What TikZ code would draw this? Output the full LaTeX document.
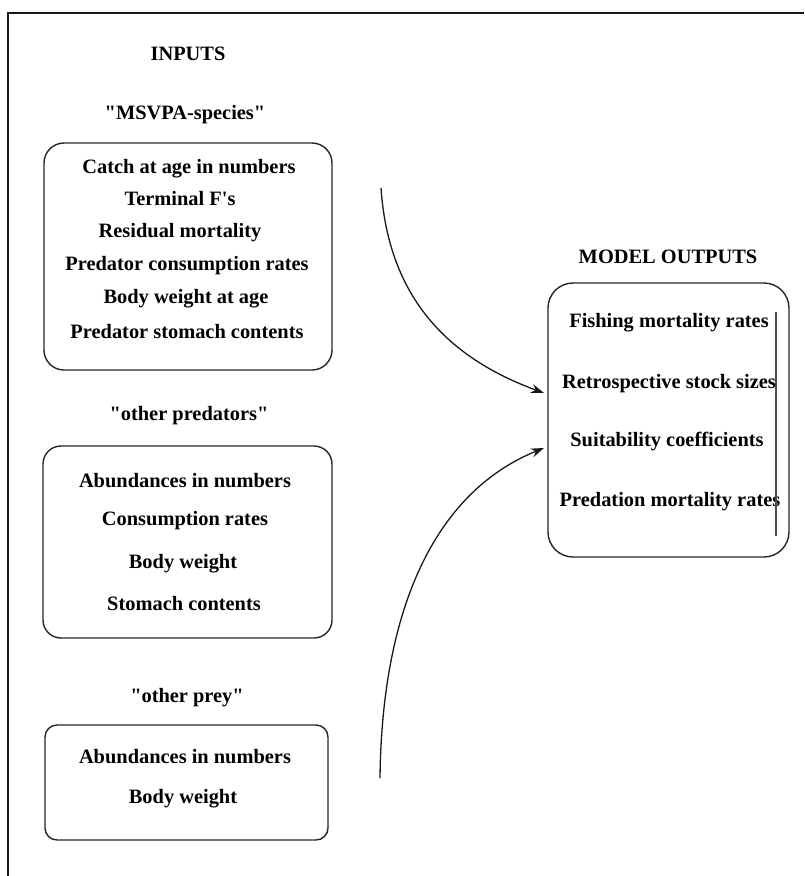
\documentclass[tikz,border=0pt]{standalone}
\usepackage{fontspec}
\setmainfont{Liberation Serif}
\usetikzlibrary{arrows.meta}
\begin{document}
\begin{tikzpicture}[x=1pt,y=-1pt,
  lbl/.style={font=\bfseries\fontsize{20.4}{24}\selectfont, inner sep=0pt, text height=14pt, text depth=4pt},
  rbox/.style={draw=black!85, line width=1.4pt, rounded corners=#1, inner sep=0pt},
  rbox/.default=20pt,
  conn/.style={draw=black!90, line width=1.3pt, -{Stealth[length=13pt,width=9pt]}},
  frame/.style={draw=black!90, line width=2.2pt}
]
\useasboundingbox (0,0) rectangle (804,876);
% frame
\draw[frame] (8,876) -- (8,13) -- (804,13);

% headings
\node[lbl] (hin) at (188,55) {INPUTS};
\node[lbl] (hms) at (185,114) {\textquotedbl MSVPA-species\textquotedbl};
\node[lbl] (hop) at (189,415) {\textquotedbl other predators\textquotedbl};
\node[lbl] (hpr) at (187,697) {\textquotedbl other prey\textquotedbl};
\node[lbl] (hout) at (668,258) {MODEL OUTPUTS};

% boxes
\node[rbox=20pt, minimum width=288pt, minimum height=227pt] (b1) at (188,256.5) {};
\node[rbox=18pt, minimum width=289pt, minimum height=192pt] (b2) at (187.5,542) {};
\node[rbox=12pt, minimum width=283pt, minimum height=115pt] (b3) at (186.5,782.5) {};
\node[rbox=25pt, minimum width=241pt, minimum height=274pt] (bo) at (668.5,420) {};

% box 1 lines
\node[lbl] (t11) at (189,168) {Catch at age in numbers};
\node[lbl] (t12) at (180,200) {Terminal F\textquotesingle s};
\node[lbl] (t13) at (180,232) {Residual mortality};
\node[lbl] (t14) at (187,265) {Predator consumption rates};
\node[lbl] (t15) at (186,298) {Body weight at age};
\node[lbl] (t16) at (187,333) {Predator stomach contents};

% box 2 lines
\node[lbl] (t21) at (185,482) {Abundances in numbers};
\node[lbl] (t22) at (185,520) {Consumption rates};
\node[lbl] (t23) at (183,563) {Body weight};
\node[lbl] (t24) at (184,605) {Stomach contents};

% box 3 lines
\node[lbl] (t31) at (185,758) {Abundances in numbers};
\node[lbl] (t32) at (183,798) {Body weight};

% output lines
\node[lbl] (o1) at (669,322) {Fishing mortality rates};
\node[lbl] (o2) at (669,383) {Retrospective stock sizes};
\node[lbl] (o3) at (667,441) {Suitability coefficients};
\node[lbl] (o4) at (670,501) {Predation mortality rates};

% inner vertical line in output box
\coordinate (vt) at (776,312);
\coordinate (vb) at (776,536);
\draw[draw=black!70, line width=1.4pt] (vt) -- (vb);

% connectors
\coordinate (a1s) at (381,188);
\coordinate (a1e) at (544,393);
\coordinate (a2s) at (380,778);
\coordinate (a2e) at (544,448);
\draw[conn] (a1s) .. controls (388,290) and (440,355) .. (a1e);
\draw[conn] (a2s) .. controls (382,600) and (440,490) .. (a2e);
\end{tikzpicture}
\end{document}
